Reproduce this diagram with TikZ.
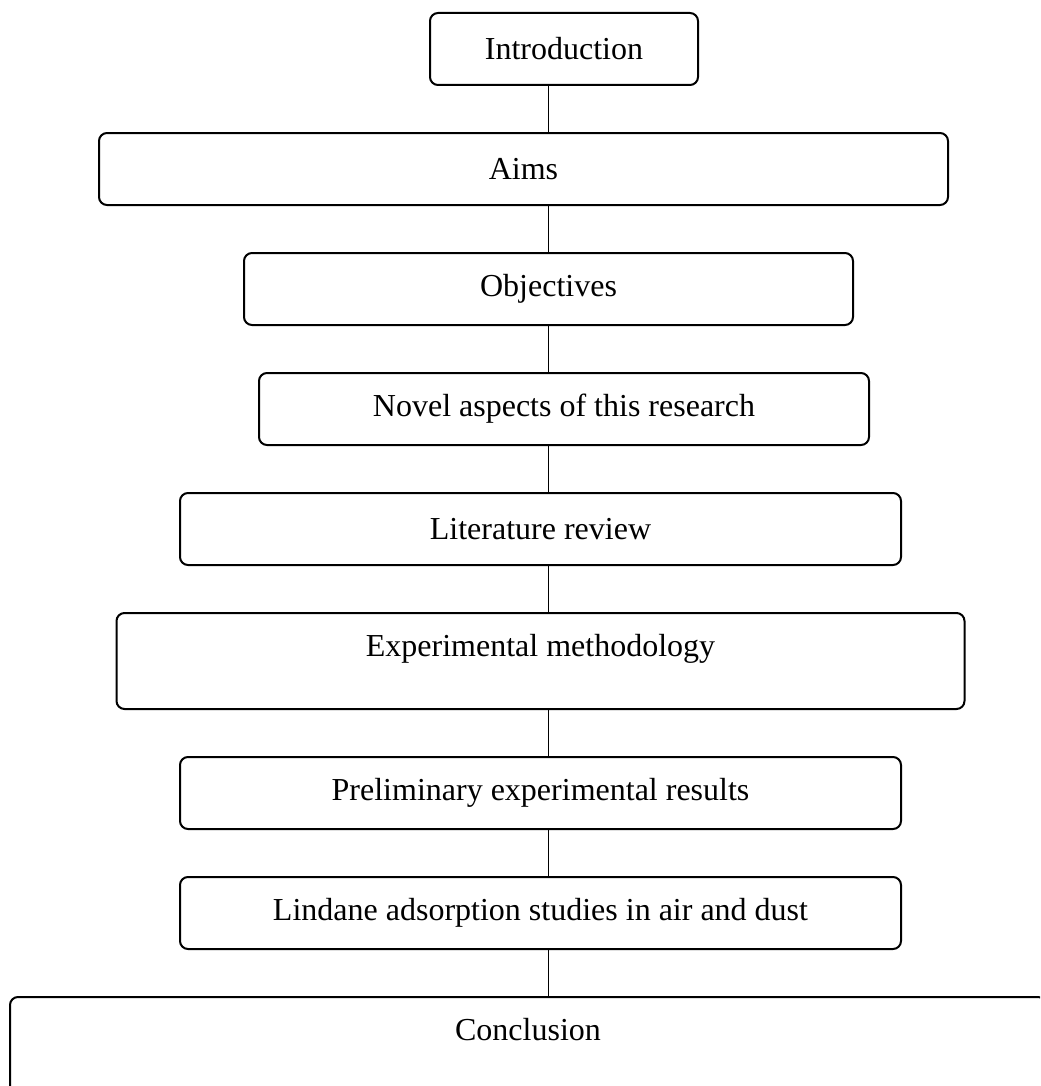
\documentclass[tikz,border=0pt]{standalone}
\usepackage{fontspec}
\setmainfont{Liberation Serif}
\usetikzlibrary{positioning}

\begin{document}
\begin{tikzpicture}[
		node distance=23pt,
		every node/.style={font=\fontsize{16}{19}\selectfont},
		box/.style={draw=black, line width=1pt, rounded corners=4pt, minimum height=36pt, align=center},
		tallbox/.style={box, minimum height=48pt, text depth=16pt},
		link/.style={line width=0.5pt}
		]
		
		% Frame
		\useasboundingbox (0,0) rectangle (520pt,-543pt);
		\clip (0,0) rectangle (520pt,-543pt);
		
		% Nodes
		\node[box, minimum width=134pt] (intro) at (282pt,-24.5pt) {Introduction};
		\node[box, minimum width=424.5pt, below=of intro, xshift=-20.25pt] (aims) {Aims};
		\node[box, minimum width=304.5pt, below=of aims, xshift=12.5pt] (objectives) {Objectives};
		\node[box, minimum width=305pt, below=of objectives, xshift=7.75pt] (novel) {Novel aspects of this research};
		\node[box, minimum width=360.5pt, below=of novel, xshift=-11.75pt] (litreview) {Literature review};
		\node[tallbox, minimum width=424pt, below=of litreview] (method) {Experimental methodology};
		\node[box, minimum width=360.5pt, below=of method] (prelim) {Preliminary experimental results};
		\node[box, minimum width=360.5pt, below=of prelim] (lindane) {Lindane adsorption studies in air and dust};
		\node[tallbox, minimum width=518pt, below=of lindane, xshift=-6.25pt] (conclusion) {Conclusion};
		\coordinate (spine) at (274pt,0);
		
		% Links
		\draw[link] (intro.south -| spine) -- (aims.north -| spine);
		\draw[link] (aims.south -| spine) -- (objectives.north -| spine);
		\draw[link] (objectives.south -| spine) -- (novel.north -| spine);
		\draw[link] (novel.south -| spine) -- (litreview.north -| spine);
		\draw[link] (litreview.south -| spine) -- (method.north -| spine);
		\draw[link] (method.south -| spine) -- (prelim.north -| spine);
		\draw[link] (prelim.south -| spine) -- (lindane.north -| spine);
		\draw[link] (lindane.south -| spine) -- (conclusion.north -| spine);
		
\end{tikzpicture}
\end{document}
